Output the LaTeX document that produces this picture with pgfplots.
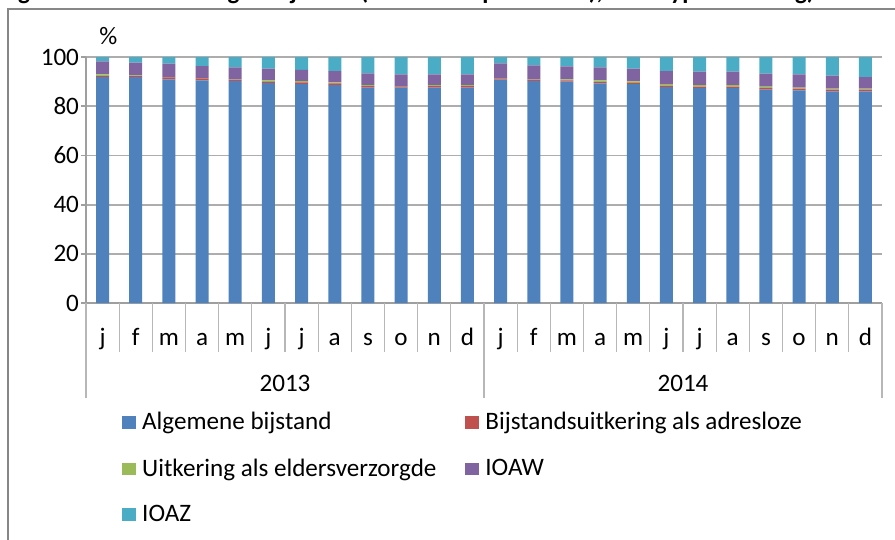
\documentclass[border=0pt]{standalone}
\usepackage{fontspec}
\setmainfont{Carlito}
\usepackage{pgfplots}
\pgfplotsset{compat=1.18}
\usepackage{pgfplotstable}

\definecolor{cAlg}{HTML}{4F81BD}
\definecolor{cAdr}{HTML}{C0504D}
\definecolor{cEld}{HTML}{9BBB59}
\definecolor{cIoaw}{HTML}{8064A2}
\definecolor{cIoaz}{HTML}{4BACC6}
\definecolor{frame}{HTML}{878787}
\definecolor{gridc}{HTML}{ADADAD}

% aandeel per type uitkering (%), jan 2013 - dec 2014
\pgfplotstableread{
x  alg   adr  eld  ioaw ioaz
0  91.8  0.4  0.7  5.3  1.8
1  91.8  0.5  0.2  5.2  2.3
2  90.9  0.8  0.1  5.5  2.7
3  90.5  0.8  0.1  4.9  3.7
4  90.3  0.5  0.1  4.9  4.2
5  89.4  0.5  0.6  4.8  4.7
6  89.1  0.6  0.5  4.6  5.2
7  88.6  0.7  0.4  4.6  5.7
8  87.6  0.6  0.4  4.7  6.7
9  87.6  0.5  0.1  4.7  7.1
10 87.6  0.6  0.4  4.3  7.1
11 87.6  0.6  0.4  4.3  7.1
12 90.8  0.5  0.1  6.0  2.6
13 90.3  0.5  0.1  5.7  3.4
14 90.0  0.5  0.4  5.3  3.8
15 89.3  0.5  0.7  5.3  4.2
16 89.0  0.5  0.6  5.2  4.7
17 87.8  0.6  0.6  5.3  5.7
18 87.5  0.5  0.6  5.5  5.9
19 87.5  0.5  0.6  5.5  5.9
20 86.7  0.6  0.7  5.2  6.8
21 86.4  0.7  0.5  5.3  7.1
22 86.0  0.7  0.4  5.3  7.6
23 86.0  0.7  0.4  4.7  8.2
}\bijstand

\newcommand{\lbl}{\fontsize{12.6}{15}\selectfont}

\begin{document}
\begin{tikzpicture}
\begin{axis}[
  width=398bp, height=123bp, scale only axis,
  xmin=-0.5, xmax=23.5, ymin=0, ymax=100,
  ybar stacked, bar width=6.5bp,
  axis lines*=left,
  axis line style={draw=frame!80, line width=0.9bp},
  xtick={0,...,23},
  xticklabels={j,f,m,a,m,j,j,a,s,o,n,d,j,f,m,a,m,j,j,a,s,o,n,d},
  xtick style={draw=none},
  xticklabel style={anchor=base, yshift=-18.5bp},
  ytick={0,20,...,100},
  ytick style={draw=frame!80, line width=0.9bp},
  tick align=outside, major tick length=2.5bp,
  yticklabel style={xshift=2.5bp},
  ymajorgrids, grid style={draw=gridc, line width=0.9bp},
  tick label style={font=\lbl},
  /pgf/number format/assume math mode=true,
  clip=false,
  legend columns=2,
  legend cell align=left,
  legend style={at={(0.045,-0.427)}, anchor=north west, draw=none, fill=none,
    inner sep=0pt, font=\lbl, row sep=9bp,
    /tikz/every odd column/.append style={column sep=1bp},
    /tikz/every even column/.append style={column sep=12.5bp}},
  legend image code/.code={\fill[#1] (0bp,-3.2bp) rectangle (7bp,3.2bp);},
]
\addplot[fill=cAlg, draw=none] table[x=x, y=alg] {\bijstand};
\addlegendentry{Algemene bijstand}
\addplot[fill=cAdr, draw=none] table[x=x, y=adr] {\bijstand};
\addlegendentry{Bijstandsuitkering als adresloze}
\addplot[fill=cEld, draw=none] table[x=x, y=eld] {\bijstand};
\addlegendentry{Uitkering als eldersverzorgde}
\addplot[fill=cIoaw, draw=none] table[x=x, y=ioaw] {\bijstand};
\addlegendentry{IOAW}
\addplot[fill=cIoaz, draw=none] table[x=x, y=ioaz] {\bijstand};
\addlegendentry{IOAZ}

% category separators
\pgfplotsinvokeforeach{0.5,1.5,2.5,3.5,4.5,5.5,6.5,7.5,8.5,9.5,10.5,12.5,13.5,14.5,15.5,16.5,17.5,18.5,19.5,20.5,21.5,22.5}{
  \draw[frame!60, line width=0.6bp] (axis cs:#1,0) -- ++(0pt,-24.5bp);
}
\pgfplotsinvokeforeach{-0.5,11.5,23.5}{
  \draw[frame!60, line width=0.6bp] (axis cs:#1,0) -- ++(0pt,-47.5bp);
}
\node[font=\lbl] at (axis cs:5.5,0) [yshift=-40bp] {2013};
\node[font=\lbl] at (axis cs:17.5,0) [yshift=-40bp] {2014};
\node[font=\lbl, anchor=base west, inner sep=0pt] at (rel axis cs:0,1) [xshift=6.5bp, yshift=6.5bp] {\%};
\end{axis}

\draw[frame, line width=1bp] (-39bp,-130bp) -- (-39bp,147bp) -- (420bp,147bp);
\begin{scope}
  \clip (-43bp,-118.5bp) rectangle (404.5bp,151.5bp);
  \node[anchor=base west, inner sep=0pt, font=\fontsize{12.6}{15}\selectfont\bfseries] at (-43bp,151.6bp)
    {Figuur 2.1 Verstrekkingen bijstand (aandeel in procenten), naar type uitkering)};
\end{scope}
\pgfresetboundingbox
\useasboundingbox (-43bp,-118.5bp) rectangle (404.5bp,151.5bp);
\end{tikzpicture}
\end{document}
